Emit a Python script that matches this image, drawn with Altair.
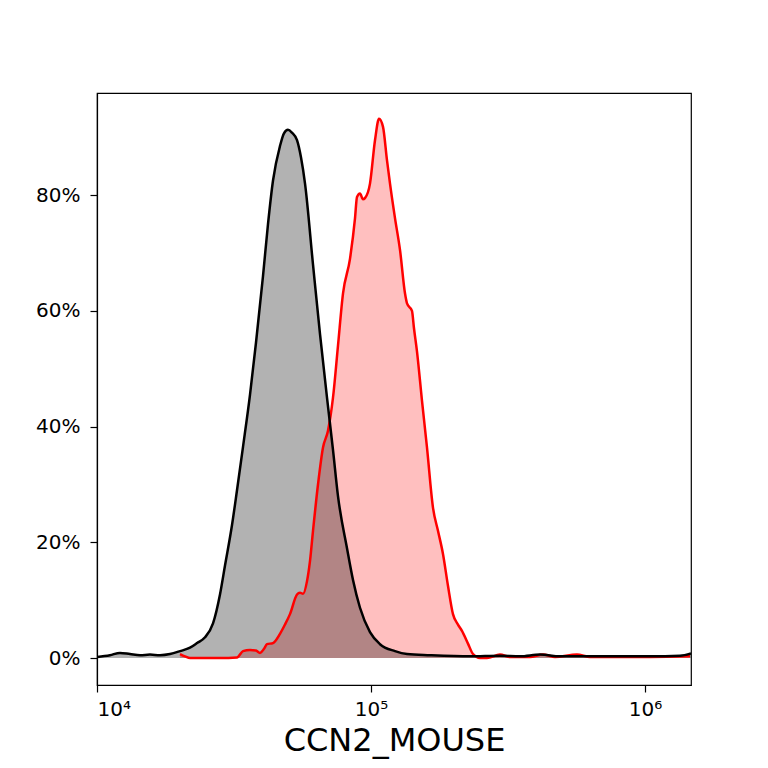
import altair as alt
import pandas as pd

# intensity values, percent of max on y
black_x = [10000, 11150, 12130, 13190, 14360, 15610, 16980, 18470, 20090, 21850,
           23180, 24790, 26510, 28110, 29320, 31100, 32430, 34110, 36170, 38040,
           40350, 42080, 43880, 46540, 48130, 49780, 51480, 53700, 55540, 57440,
           61430, 65150, 69090, 72660, 75780, 81740, 85970, 91170, 99160, 107850,
           122380, 135350, 164190, 229770, 295630, 349810, 413870, 489510, 685120,
           1043000, 1342000, 1472000]
black_y = [0.2, 0.5, 0.9, 0.7, 0.5, 0.6, 0.5, 0.7, 1.2, 1.8,
           2.6, 3.6, 6.0, 11.0, 16.0, 23.0, 29.0, 36.5, 45.5, 54.5,
           66.0, 75.0, 82.5, 88.5, 90.7, 91.3, 90.8, 89.5, 86.5, 82.0,
           68.0, 56.0, 45.0, 36.0, 28.0, 19.0, 13.5, 8.7, 4.5, 2.4,
           1.2, 0.7, 0.5, 0.3, 0.4, 0.3, 0.6, 0.3, 0.3,
           0.3, 0.4, 0.8]

red_x = [20090, 20950, 21850, 23770, 28110, 32430, 34110, 36170, 38040, 39340,
         40690, 41730, 43880, 46540, 48540, 50620, 53700, 55070, 56480, 58410,
         59900, 61430, 64060, 66810, 69670, 72660, 75780, 79030, 83820, 87420,
         88900, 91170, 93490, 95080, 99160, 103420, 106960, 110620, 114400, 117320,
         122380, 127630, 133100, 135350, 141120, 143510, 147170, 153480, 160070, 168350,
         175580, 183110, 190960, 199160, 207700, 214800, 225940, 235640, 249910, 265090,
         295630, 321590, 380490, 424420, 469400, 564720, 630040, 810570, 1043000, 1460000]
red_y = [0.7, 0.3, 0.0, 0.0, 0.0, 0.1, 1.2, 1.4, 1.3, 0.9,
         1.6, 2.4, 2.6, 4.2, 5.8, 7.6, 11.0, 11.3, 11.1, 13.3,
         16.8, 22.0, 30.0, 36.4, 39.3, 45.0, 54.0, 63.0, 69.0, 76.0,
         79.7, 80.3, 79.3, 79.5, 82.0, 89.5, 93.2, 91.8, 86.0, 82.0,
         76.0, 70.5, 63.0, 61.3, 60.0, 57.0, 53.0, 44.5, 36.4, 26.0,
         22.0, 18.0, 12.5, 7.6, 5.8, 4.7, 2.5, 0.7, 0.0, 0.0,
         0.6, 0.2, 0.2, 0.6, 0.2, 0.6, 0.2, 0.2, 0.2, 0.3]

x_ticks = [10000, 100000, 1000000]
y_ticks = [0, 20, 40, 60, 80]

FONT = "DejaVu Sans"

x_scale = alt.Scale(type="log", domain=[10000, 1472000], nice=False)
y_scale = alt.Scale(domain=[-4.65, 97.66], nice=False, zero=False)

x_axis = alt.Axis(
    values=x_ticks,
    labelExpr="datum.value == 10000 ? '10⁴' : datum.value == 100000 ? '10⁵' : '10⁶'",
    grid=False, tickSize=7, labelPadding=7, labelFontSize=20,
    title="CCN2_MOUSE", titleFontSize=32, titleFontWeight="normal", titlePadding=6,
)
y_axis = alt.Axis(
    values=y_ticks, labelExpr="datum.value + '%'", grid=False,
    tickSize=7, labelPadding=10, labelFontSize=20, title=None,
)


def histogram_layers(xs, ys, color, fill_opacity):
    df = pd.DataFrame({"intensity": xs, "pct": ys})
    base = alt.Chart(df).encode(
        x=alt.X("intensity:Q", scale=x_scale, axis=x_axis),
        y=alt.Y("pct:Q", scale=y_scale, axis=y_axis),
    )
    area = base.mark_area(color=color, opacity=fill_opacity, interpolate="monotone", clip=True)
    line = base.mark_line(color=color, strokeWidth=2.5, interpolate="monotone", clip=True)
    return area, line


red_area, red_line = histogram_layers(red_x, red_y, "#ff0000", 0.25)
black_area, black_line = histogram_layers(black_x, black_y, "#000000", 0.3)

chart = (
    alt.layer(red_area, black_area, red_line, black_line)
    .properties(
        width=594,
        height=592,
        autosize=alt.AutoSizeParams(type="none"),
        padding={"left": 89, "top": 85, "right": 60, "bottom": 75},
    )
    .configure_view(stroke="black", strokeWidth=1.2)
    .configure_axis(
        domainColor="black", tickColor="black", labelColor="black", titleColor="black",
        labelFont=FONT, titleFont=FONT, domainWidth=1.2, tickWidth=1.2,
    )
)

chart.save("out.html", embed_options={"renderer": "svg", "actions": False})
